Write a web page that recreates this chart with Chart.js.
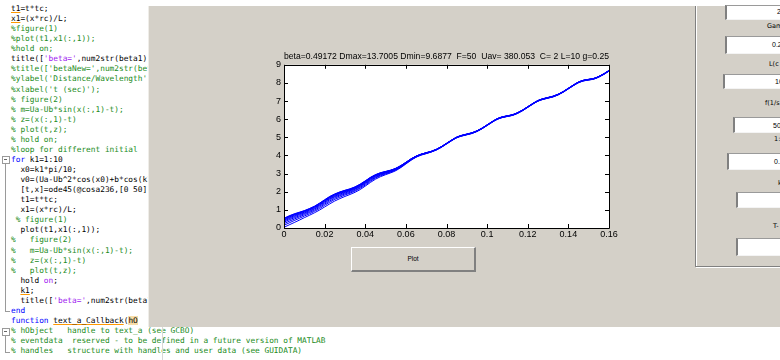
<!DOCTYPE html>
<html><head><meta charset="utf-8">
<script src="https://cdn.jsdelivr.net/npm/chart.js@4"></script>
<style>
html,body{margin:0;padding:0}
body{width:780px;height:360px;overflow:hidden;background:#fff;position:relative;font-family:"Liberation Sans",Arial,sans-serif}
#code{position:absolute;left:11px;top:4px;font-family:"DejaVu Sans Mono",monospace;font-size:7.8px;line-height:10.07px;white-space:pre;color:#000}
#code div{height:10.07px}
.c{color:#228B22}.k{color:#0000FF}.s{color:#A020F0}
.w{text-decoration:underline;text-decoration-color:#FF9900}
.h{background:#F7DDA8}
.abs{position:absolute}
#win{position:absolute;left:148px;top:6px;width:632px;height:321px;background:#D4D0C8;border-left:1px solid #EFEDE8;box-sizing:border-box}
.box{position:absolute;background:#fff;border-left:2px solid #808080;border-top:1px solid #9a9a9a;border-bottom:1px solid #f4f4f4;box-sizing:border-box;font-size:7px;color:#000;overflow:hidden;white-space:nowrap}
.lab{position:absolute;font-family:"DejaVu Sans",sans-serif;font-size:6.5px;color:#000;white-space:nowrap}
#btn{position:absolute;left:351px;top:247px;width:125px;height:25px;box-sizing:border-box;background:#D4D0C8;border-top:1px solid #fff;border-left:1px solid #fff;border-right:2px solid #808080;border-bottom:2px solid #808080;font-size:6.5px;text-align:center;line-height:22px;color:#000}
</style></head>
<body>
<div id="code"></div>
<div class="abs" style="left:2px;top:156px;width:6px;height:6px;border:1px solid #9a9a9a;background:#fff"></div>
<div class="abs" style="left:4px;top:159px;width:3px;height:1px;background:#666"></div>
<div class="abs" style="left:5px;top:164px;width:1px;height:147px;background:#9a9a9a"></div>
<div class="abs" style="left:5px;top:311px;width:5px;height:1px;background:#9a9a9a"></div>
<div class="abs" style="left:2px;top:328px;width:6px;height:6px;border:1px solid #9a9a9a;background:#fff"></div>
<div class="abs" style="left:4px;top:331px;width:3px;height:1px;background:#666"></div>
<div class="abs" style="left:5px;top:336px;width:1px;height:16px;background:#9a9a9a"></div>
<div class="abs" style="left:5px;top:352px;width:5px;height:1px;background:#9a9a9a"></div>
<div class="abs" style="left:162px;top:327px;width:1px;height:33px;background:#d8d8d8"></div>
<div id="win"></div>
<div class="abs" style="left:695px;top:6px;width:1px;height:260px;background:#808080"></div>
<div class="abs" style="left:696px;top:6px;width:1px;height:260px;background:#fff"></div>
<div class="abs" style="left:695px;top:266px;width:85px;height:1px;background:#808080"></div>
<div class="abs" style="left:696px;top:267px;width:84px;height:1px;background:#fff"></div>
<div class="box" style="left:725px;top:5px;width:60px;height:15px"><span class="abs" style="left:50px;top:2px">2</span></div>
<div class="lab" style="left:767px;top:22px">Gam</div>
<div class="box" style="left:725px;top:36px;width:60px;height:18px"><span class="abs" style="left:45px;top:4px">0.2</span></div>
<div class="lab" style="left:769px;top:60px">L(c</div>
<div class="box" style="left:723px;top:74px;width:62px;height:15px"><span class="abs" style="left:50px;top:3px">10</span></div>
<div class="lab" style="left:765px;top:99px">f(1/s</div>
<div class="box" style="left:733px;top:117px;width:52px;height:16px"><span class="abs" style="left:38px;top:4px">50</span></div>
<div class="lab" style="left:774px;top:135px">1:</div>
<div class="box" style="left:727px;top:153px;width:58px;height:17px"><span class="abs" style="left:45px;top:4px">0.</span></div>
<div class="lab" style="left:778px;top:179px">k</div>
<div class="box" style="left:736px;top:192px;width:49px;height:16px"></div>
<div class="lab" style="left:773px;top:222px">T-</div>
<div class="box" style="left:736px;top:238px;width:49px;height:18px"></div>
<div id="btn">Plot</div>
<canvas id="c" width="380" height="200" style="position:absolute;left:250px;top:44px;width:380px;height:200px"></canvas>
<script>
// ---- code editor text ----
const codeLines = [
"<span class=w>t1</span>=t*tc;",
"<span class=w>x1</span>=(x*rc)/L;",
"<span class=c>%figure(1)</span>",
"<span class=c>%plot(t1,x1(:,1));</span>",
"<span class=c>%hold on;</span>",
"title([<span class=s>'beta='</span>,num2str(beta1),<span class=s>'</span>",
"<span class=c>%title(['betaNew=',num2str(beta</span>",
"<span class=c>%ylabel('Distance/Wavelength')</span>",
"<span class=c>%xlabel('t (sec)');</span>",
"<span class=c>% figure(2)</span>",
"<span class=c>% m=Ua-Ub*sin(x(:,1)-t);</span>",
"<span class=c>% z=(x(:,1)-t)</span>",
"<span class=c>% plot(t,z);</span>",
"<span class=c>% hold on;</span>",
"<span class=c>%loop for different initial</span>",
"<span class=k>for</span> k1=1:10",
"  x0=k1*pi/10;",
"  v0=(Ua-Ub^2*cos(x0)+b*cos(k1*x0",
"  [t,x]=ode45(@cosa236,[0 50],[x0 v0]",
"  t1=t*tc;",
"  x1=(x*rc)/L;",
" <span class=c>% figure(1)</span>",
"  plot(t1,x1(:,1));",
"<span class=c>%   figure(2)</span>",
"<span class=c>%   m=Ua-Ub*sin(x(:,1)-t);</span>",
"<span class=c>%   z=(x(:,1)-t)</span>",
"<span class=c>%   plot(t,z);</span>",
"  hold <span class=s>on</span>;",
"  <span class=w>k1</span>;",
"  title([<span class=s>'beta='</span>,num2str(beta1",
"<span class=k>end</span>",
"<span class=k>function</span> <span class=w>text_a_Callback</span>(<span class=h>hO</span>",
"<span class=c>% hObject   handle to text_a (see GCBO)</span>",
"<span class=c>% eventdata  reserved - to be defined in a future version of MATLAB</span>",
"<span class=c>% handles   structure with handles and user data (see GUIDATA)</span>"
];
document.getElementById('code').innerHTML = codeLines.map(l => '<div>' + l + '</div>').join('');

// ---- chart data ----
const chartTitle = "beta=0.49172 Dmax=13.7005 Dmin=9.6877\u00A0\u00A0F=50\u00A0\u00A0Uav= 380.053\u00A0\u00A0C= 2 L=10 g=0.25";
const xTickValues = [0,0.02,0.04,0.06,0.08,0.1,0.12,0.14,0.16];
const xTickLabels = ["0","0.02","0.04","0.06","0.08","0.1","0.12","0.14","0.16"];
const yTickValues = [0,1,2,3,4,5,6,7,8,9];
const yTickLabels = ["0","1","2","3","4","5","6","7","8","9"];
const times = [0,0.0025,0.005,0.0075,0.01,0.0125,0.015,0.0175,0.02,0.0225,0.025,0.0275,0.03,0.0325,0.035,0.0375,0.04,0.0425,0.045,0.0475,0.05,0.0525,0.055,0.0575,0.06,0.0625,0.065,0.0675,0.07,0.0725,0.075,0.0775,0.08,0.0825,0.085,0.0875,0.09,0.0925,0.095,0.0975,0.1,0.1025,0.105,0.1075,0.11,0.1125,0.115,0.1175,0.12,0.1225,0.125,0.1275,0.13,0.1325,0.135,0.1375,0.14,0.1425,0.145,0.1475,0.15,0.1525,0.155,0.1575,0.16];

const curve1 = [0.04,0.17,0.30,0.43,0.57,0.70,0.84,0.99,1.16,1.33,1.49,1.62,1.74,1.85,1.97,2.12,2.31,2.51,2.69,2.83,2.94,3.04,3.16,3.33,3.53,3.73,3.90,4.02,4.10,4.19,4.30,4.45,4.63,4.81,4.97,5.07,5.14,5.21,5.32,5.47,5.65,5.83,5.99,6.09,6.15,6.21,6.32,6.47,6.65,6.83,6.99,7.09,7.16,7.23,7.34,7.49,7.67,7.85,8.01,8.11,8.16,8.21,8.32,8.47,8.65];
const curve2 = [0.15,0.28,0.41,0.53,0.66,0.78,0.92,1.07,1.25,1.42,1.58,1.70,1.82,1.92,2.04,2.19,2.37,2.57,2.75,2.88,2.98,3.07,3.19,3.35,3.55,3.75,3.91,4.03,4.11,4.20,4.31,4.46,4.64,4.82,4.98,5.08,5.15,5.22,5.33,5.48,5.66,5.84,6.00,6.10,6.16,6.22,6.33,6.48,6.66,6.84,7.00,7.10,7.17,7.24,7.35,7.50,7.68,7.86,8.02,8.12,8.17,8.22,8.33,8.48,8.66];
const curve3 = [0.24,0.37,0.49,0.61,0.73,0.85,0.98,1.14,1.32,1.49,1.65,1.77,1.88,1.97,2.09,2.24,2.43,2.62,2.79,2.92,3.01,3.10,3.21,3.37,3.57,3.76,3.92,4.04,4.12,4.20,4.31,4.46,4.64,4.82,4.98,5.08,5.15,5.22,5.33,5.48,5.66,5.84,6.00,6.10,6.16,6.22,6.33,6.48,6.66,6.84,7.00,7.10,7.17,7.24,7.35,7.50,7.68,7.86,8.02,8.12,8.17,8.22,8.33,8.48,8.66];
const curve4 = [0.32,0.45,0.56,0.67,0.79,0.90,1.04,1.20,1.38,1.56,1.71,1.82,1.93,2.02,2.14,2.29,2.47,2.66,2.83,2.95,3.04,3.12,3.23,3.39,3.58,3.77,3.93,4.05,4.13,4.21,4.32,4.47,4.65,4.83,4.99,5.09,5.16,5.23,5.34,5.49,5.67,5.85,6.01,6.11,6.17,6.23,6.34,6.49,6.67,6.85,7.01,7.11,7.18,7.25,7.36,7.51,7.69,7.87,8.03,8.13,8.18,8.23,8.34,8.49,8.67];
const curve5 = [0.38,0.51,0.62,0.73,0.83,0.95,1.08,1.25,1.43,1.61,1.75,1.87,1.97,2.06,2.17,2.32,2.50,2.70,2.86,2.98,3.06,3.14,3.25,3.40,3.59,3.78,3.94,4.05,4.13,4.21,4.32,4.47,4.65,4.83,4.99,5.09,5.16,5.23,5.34,5.49,5.67,5.85,6.01,6.11,6.17,6.23,6.34,6.49,6.67,6.85,7.01,7.11,7.18,7.25,7.36,7.51,7.69,7.87,8.03,8.13,8.18,8.23,8.34,8.49,8.67];
const curve6 = [0.43,0.56,0.67,0.77,0.87,0.99,1.12,1.28,1.47,1.65,1.79,1.91,2.00,2.09,2.20,2.35,2.53,2.73,2.88,3.00,3.08,3.16,3.26,3.42,3.60,3.79,3.95,4.06,4.14,4.22,4.33,4.48,4.66,4.84,5.00,5.10,5.17,5.24,5.35,5.50,5.68,5.86,6.02,6.12,6.18,6.24,6.35,6.50,6.68,6.86,7.02,7.12,7.19,7.26,7.37,7.52,7.70,7.88,8.04,8.14,8.19,8.24,8.35,8.50,8.68];
const curve7 = [0.47,0.60,0.71,0.80,0.90,1.02,1.15,1.31,1.50,1.68,1.82,1.94,2.03,2.11,2.23,2.38,2.56,2.75,2.90,3.02,3.09,3.17,3.27,3.42,3.61,3.80,3.95,4.06,4.14,4.22,4.33,4.48,4.66,4.84,5.00,5.10,5.17,5.24,5.35,5.50,5.68,5.86,6.02,6.12,6.18,6.24,6.35,6.50,6.68,6.86,7.02,7.12,7.19,7.26,7.37,7.52,7.70,7.88,8.04,8.14,8.19,8.24,8.35,8.50,8.68];
const curve8 = [0.50,0.63,0.74,0.83,0.93,1.04,1.17,1.34,1.52,1.70,1.85,1.96,2.05,2.13,2.24,2.39,2.57,2.77,2.92,3.03,3.10,3.18,3.28,3.43,3.61,3.80,3.96,4.07,4.15,4.22,4.33,4.48,4.66,4.84,5.00,5.10,5.17,5.24,5.35,5.50,5.68,5.86,6.02,6.12,6.18,6.24,6.35,6.50,6.68,6.86,7.02,7.12,7.19,7.26,7.37,7.52,7.70,7.88,8.04,8.14,8.19,8.24,8.35,8.50,8.68];
const curve9 = [0.52,0.65,0.76,0.85,0.94,1.06,1.19,1.36,1.54,1.72,1.86,1.98,2.07,2.15,2.26,2.41,2.59,2.78,2.93,3.04,3.11,3.18,3.29,3.44,3.62,3.81,3.96,4.07,4.15,4.23,4.34,4.49,4.67,4.85,5.01,5.11,5.18,5.25,5.36,5.51,5.69,5.87,6.03,6.13,6.19,6.25,6.36,6.51,6.69,6.87,7.03,7.13,7.20,7.27,7.38,7.53,7.71,7.89,8.05,8.15,8.20,8.25,8.36,8.51,8.69];
const curve10 = [0.54,0.67,0.78,0.87,0.96,1.07,1.20,1.37,1.56,1.74,1.88,1.99,2.08,2.16,2.27,2.42,2.60,2.79,2.94,3.05,3.12,3.19,3.29,3.44,3.62,3.81,3.96,4.07,4.15,4.23,4.34,4.49,4.67,4.85,5.01,5.11,5.18,5.25,5.36,5.51,5.69,5.87,6.03,6.13,6.19,6.25,6.36,6.51,6.69,6.87,7.03,7.13,7.20,7.27,7.38,7.53,7.71,7.89,8.05,8.15,8.20,8.25,8.36,8.51,8.69];
const curves = [curve1,curve2,curve3,curve4,curve5,curve6,curve7,curve8,curve9,curve10];

const tickFont = {family:"Liberation Sans", size:9};

const matlabAxes = {
  id:'matlabAxes',
  beforeDraw(chart){
    const a = chart.chartArea, c = chart.ctx;
    c.save(); c.fillStyle = '#ffffff';
    c.fillRect(a.left, a.top, a.right - a.left, a.bottom - a.top);
    c.restore();
  },
  afterDatasetsDraw(chart){
    const a = chart.chartArea, c = chart.ctx;
    const xs = chart.scales.x, ys = chart.scales.y;
    c.save();
    c.strokeStyle = '#000'; c.lineWidth = 1;
    c.beginPath();
    c.rect(Math.round(a.left) + 0.5, Math.round(a.top) + 0.5, Math.round(a.right) - Math.round(a.left), Math.round(a.bottom) - Math.round(a.top));
    const L = 4;
    xTickValues.forEach(v => {
      const px = Math.round(xs.getPixelForValue(v)) + 0.5;
      c.moveTo(px, a.bottom); c.lineTo(px, a.bottom - L);
      c.moveTo(px, a.top); c.lineTo(px, a.top + L);
    });
    yTickValues.forEach(v => {
      const py = Math.round(ys.getPixelForValue(v)) + 0.5;
      c.moveTo(a.left, py); c.lineTo(a.left + L, py);
      c.moveTo(a.right, py); c.lineTo(a.right - L, py);
    });
    c.stroke();
    c.restore();
  }
};

new Chart(document.getElementById('c'), {
  type:'line',
  data:{
    datasets: curves.map((cv, k) => ({
      label:'k1=' + (k + 1),
      data: times.map((t, i) => ({x:t, y:cv[i]})),
      borderColor:'#0000FF', borderWidth:1, pointRadius:0, fill:false,
      cubicInterpolationMode:'monotone'
    }))
  },
  options:{
    responsive:false, animation:false, devicePixelRatio:1,
    layout:{padding:{left:0, right:21, top:0, bottom:0}},
    plugins:{
      legend:{display:false}, tooltip:{enabled:false},
      title:{display:true, text:chartTitle, fullSize:false, color:'#000',
             font:{family:"Liberation Sans", size:9, weight:'normal'}, padding:{top:7, bottom:3}}
    },
    scales:{
      x:{type:'linear', min:0, max:0.16,
         afterBuildTicks: s => { s.ticks = xTickValues.map(v => ({value:v})); },
         ticks:{callback:(v, i) => xTickLabels[i], font:tickFont, color:'#000', padding:1, maxRotation:0, autoSkip:false},
         grid:{display:false, drawTicks:false}, border:{display:false},
         afterFit: s => { s.height = 16; }},
      y:{type:'linear', min:0, max:9,
         afterBuildTicks: s => { s.ticks = yTickValues.map(v => ({value:v})); },
         ticks:{callback:(v, i) => yTickLabels[i], font:tickFont, color:'#000', padding:3, autoSkip:false},
         grid:{display:false, drawTicks:false}, border:{display:false},
         afterFit: s => { s.width = 34; }}
    }
  },
  plugins:[matlabAxes]
});
</script>
</body></html>
